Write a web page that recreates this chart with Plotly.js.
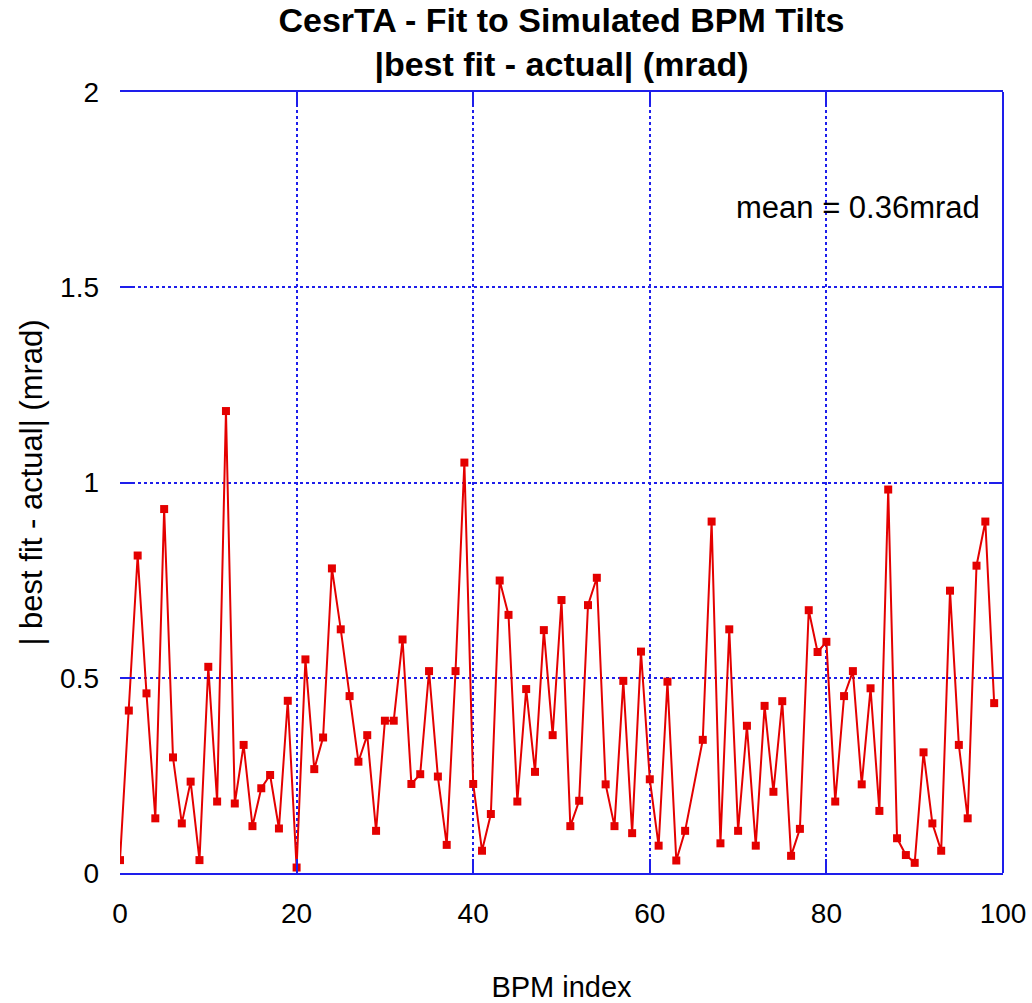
<!DOCTYPE html>
<html>
<head>
<meta charset="utf-8">
<script src="https://cdn.plot.ly/plotly-3.0.1.min.js"></script>
<style>
  html, body { margin: 0; padding: 0; background: #ffffff; }
  #chart { width: 1032px; height: 1003px; }
</style>
</head>
<body>
<div id="chart"></div>
<script>
// BPM index (point 65 is absent in the reference)
const bpmIndex = [
  0, 1, 2, 3, 4, 5, 6, 7, 8, 9,
  10, 11, 12, 13, 14, 15, 16, 17, 18, 19,
  20, 21, 22, 23, 24, 25, 26, 27, 28, 29,
  30, 31, 32, 33, 34, 35, 36, 37, 38, 39,
  40, 41, 42, 43, 44, 45, 46, 47, 48, 49,
  50, 51, 52, 53, 54, 55, 56, 57, 58, 59,
  60, 61, 62, 63, 64, 66, 67, 68, 69,
  70, 71, 72, 73, 74, 75, 76, 77, 78, 79,
  80, 81, 82, 83, 84, 85, 86, 87, 88, 89,
  90, 91, 92, 93, 94, 95, 96, 97, 98, 99
];

// |best fit - actual| (mrad)
const fitError = [
  0.033, 0.416, 0.813, 0.460, 0.140, 0.932, 0.296, 0.127, 0.234, 0.033,
  0.528, 0.183, 1.183, 0.178, 0.328, 0.120, 0.217, 0.251, 0.114, 0.441,
  0.014, 0.547, 0.266, 0.347, 0.780, 0.624, 0.453, 0.285, 0.353, 0.108,
  0.390, 0.390, 0.598, 0.228, 0.253, 0.517, 0.247, 0.072, 0.517, 1.051,
  0.228, 0.057, 0.151, 0.749, 0.661, 0.183, 0.471, 0.259, 0.622, 0.353,
  0.699, 0.120, 0.185, 0.686, 0.756, 0.227, 0.120, 0.492, 0.102, 0.567,
  0.240, 0.070, 0.490, 0.032, 0.108, 0.341, 0.900, 0.076, 0.624,
  0.108, 0.377, 0.070, 0.428, 0.208, 0.440, 0.044, 0.113, 0.673, 0.566,
  0.592, 0.183, 0.453, 0.517, 0.227, 0.473, 0.159, 0.982, 0.089, 0.046,
  0.026, 0.309, 0.127, 0.057, 0.723, 0.328, 0.140, 0.787, 0.900, 0.435
];

const xTickVals = [0, 20, 40, 60, 80, 100];
const xTickText = ["0", "20", "40", "60", "80", "100"];
const yTickVals = [0, 0.5, 1, 1.5, 2];
const yTickText = ["0", "0.5", "1", "1.5", "2"];

const titleLine1 = "CesrTA - Fit to Simulated BPM Tilts";
const titleLine2 = "|best fit - actual| (mrad)";
const xTitle = "BPM index";
const yTitle = "| best fit - actual| (mrad)";
const meanLabel = "mean = 0.36mrad";
const meanPos = { x: 83.6, y: 1.705 };

const RED = "rgb(228,0,0)";
const BLUE = "rgb(30,30,235)";
const FONT = "Liberation Sans, Arial, sans-serif";

const trace = {
  x: bpmIndex,
  y: fitError,
  type: "scatter",
  mode: "lines+markers",
  line: { color: RED, width: 2 },
  marker: { color: RED, symbol: "square", size: 8 },
  hoverinfo: "x+y"
};

const layout = {
  width: 1032,
  height: 1003,
  paper_bgcolor: "#ffffff",
  plot_bgcolor: "#ffffff",
  margin: { l: 120, r: 29, t: 92, b: 130 },
  showlegend: false,
  font: { family: FONT, color: "#000000", size: 28 },
  title: {
    text: titleLine1 + "<br>" + titleLine2,
    font: { family: FONT, size: 34, color: "#000000", weight: "bold" },
    x: 0.5, xref: "paper", xanchor: "center",
    y: 0.968, yref: "container", yanchor: "top"
  },
  xaxis: {
    range: [0, 100],
    tickmode: "array",
    tickvals: xTickVals,
    ticktext: xTickText,
    ticks: "inside",
    ticklen: 14,
    tickwidth: 2,
    tickcolor: BLUE,
    showline: true,
    linecolor: BLUE,
    linewidth: 2,
    mirror: "ticks",
    showgrid: true,
    gridcolor: BLUE,
    gridwidth: 2,
    griddash: "dot",
    zeroline: false,
    ticklabelstandoff: 14,
    tickfont: { family: FONT, size: 28, color: "#000000" },
    title: { text: xTitle, font: { family: FONT, size: 29, color: "#000000" }, standoff: 50 }
  },
  yaxis: {
    range: [0, 2],
    tickmode: "array",
    tickvals: yTickVals,
    ticktext: yTickText,
    ticks: "inside",
    ticklen: 14,
    tickwidth: 2,
    tickcolor: BLUE,
    showline: false,
    mirror: "ticks",
    showgrid: true,
    gridcolor: BLUE,
    gridwidth: 2,
    griddash: "dot",
    zeroline: false,
    ticklabelstandoff: 20,
    tickfont: { family: FONT, size: 28, color: "#000000" },
    title: { text: yTitle, font: { family: FONT, size: 31, color: "#000000" }, standoff: 8 }
  },
  shapes: [
    { type: "line", xref: "paper", yref: "paper", x0: 1, x1: 1, y0: 0, y1: 1,
      line: { color: BLUE, width: 2 } }
  ],
  annotations: [
    { x: meanPos.x, y: meanPos.y, xref: "x", yref: "y", text: meanLabel,
      showarrow: false, xanchor: "center", yanchor: "middle",
      font: { family: FONT, size: 31, color: "#000000" } }
  ]
};

Plotly.newPlot("chart", [trace], layout, { displayModeBar: false, staticPlot: true });
</script>
</body>
</html>
